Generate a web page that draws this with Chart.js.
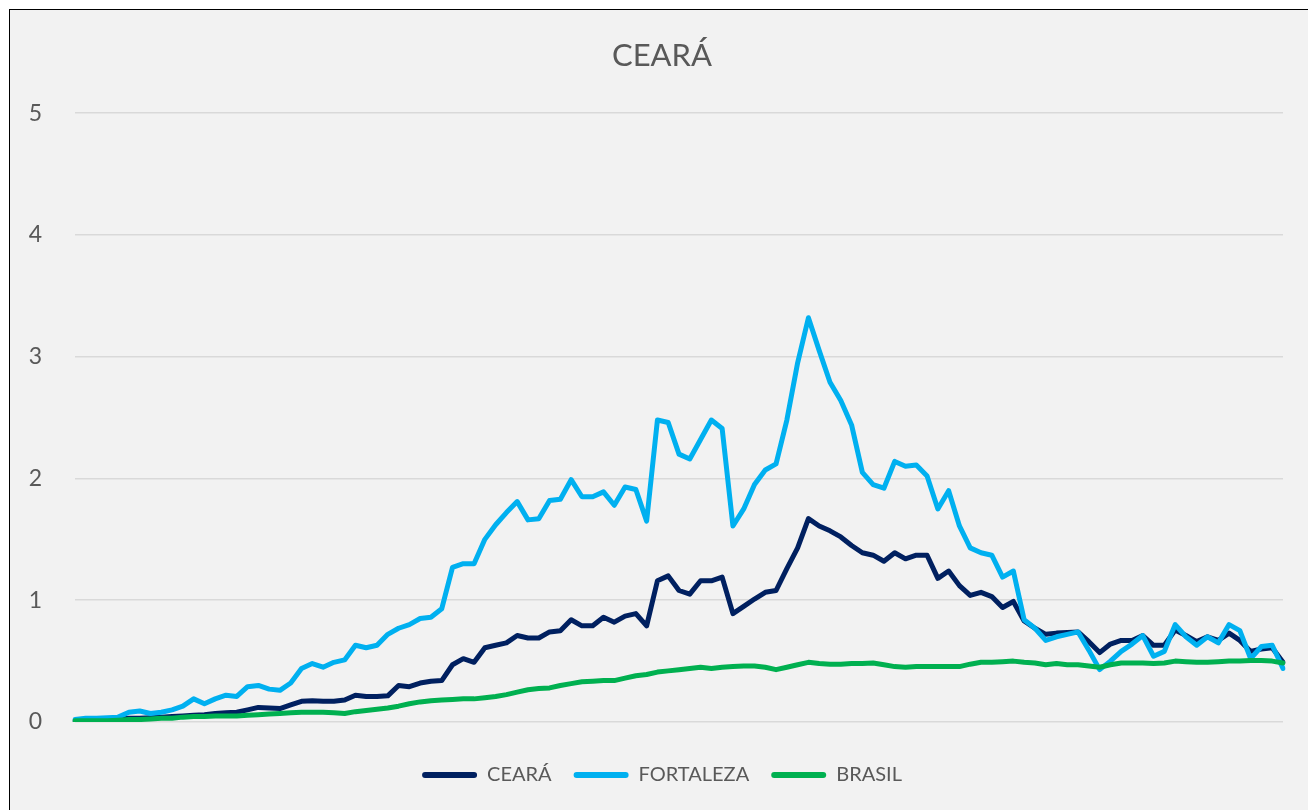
<!DOCTYPE html>
<html>
<head>
<meta charset="utf-8">
<script src="https://cdn.jsdelivr.net/npm/chart.js@4"></script>
<style>
  html, body { margin: 0; padding: 0; background: #ffffff; overflow: hidden; }
  .frame { position: absolute; left: 9px; top: 9px; width: 1304px; height: 800px;
           border: 1px solid #000; background: #f2f2f2; }
  canvas { display: block; }
</style>
</head>
<body>
<div class="frame"><canvas id="myChart" width="1304" height="800"></canvas></div>
<script>
// weekly points, labels are not shown on the axis
var semanas = Array.from({length: 113}, function (v, i) { return 'S' + (i + 1); });

var yTicks = [0, 1, 2, 3, 4, 5];

var ceara = [0.01,0.01,0.015,0.02,0.02,0.03,0.03,0.035,0.04,0.045,
  0.05,0.055,0.06,0.07,0.075,0.08,0.10,0.12,0.115,0.11,
  0.14,0.17,0.175,0.17,0.17,0.18,0.22,0.21,0.21,0.215,
  0.30,0.29,0.32,0.335,0.34,0.47,0.52,0.49,0.61,0.63,
  0.65,0.71,0.69,0.69,0.74,0.75,0.84,0.79,0.79,0.86,
  0.82,0.87,0.89,0.79,1.16,1.20,1.08,1.05,1.16,1.16,
  1.19,0.89,0.95,1.01,1.065,1.08,1.26,1.43,1.67,1.61,
  1.57,1.52,1.45,1.39,1.37,1.32,1.39,1.34,1.37,1.37,
  1.18,1.24,1.12,1.04,1.065,1.03,0.94,0.99,0.83,0.77,
  0.72,0.73,0.735,0.74,0.66,0.57,0.64,0.67,0.67,0.71,
  0.63,0.63,0.755,0.71,0.66,0.70,0.67,0.73,0.67,0.58,
  0.60,0.61,0.49];

var fortaleza = [0.02,0.03,0.03,0.035,0.04,0.08,0.09,0.07,0.08,0.10,
  0.13,0.19,0.15,0.19,0.22,0.21,0.29,0.30,0.27,0.26,
  0.32,0.44,0.48,0.45,0.49,0.51,0.63,0.61,0.63,0.72,
  0.77,0.80,0.85,0.86,0.93,1.27,1.30,1.30,1.50,1.62,
  1.72,1.81,1.66,1.67,1.82,1.83,1.99,1.85,1.85,1.89,
  1.78,1.93,1.91,1.65,2.48,2.46,2.20,2.16,2.32,2.48,
  2.41,1.61,1.75,1.95,2.07,2.12,2.48,2.95,3.32,3.05,
  2.79,2.64,2.44,2.05,1.95,1.92,2.14,2.10,2.11,2.02,
  1.75,1.90,1.61,1.43,1.39,1.37,1.19,1.24,0.84,0.77,
  0.67,0.70,0.72,0.74,0.59,0.43,0.50,0.58,0.64,0.71,
  0.54,0.58,0.80,0.70,0.63,0.70,0.65,0.80,0.75,0.52,
  0.62,0.63,0.44];

var brasil = [0.01,0.01,0.01,0.01,0.015,0.02,0.02,0.025,0.03,0.03,
  0.04,0.045,0.045,0.05,0.05,0.05,0.055,0.06,0.065,0.07,
  0.075,0.08,0.08,0.08,0.075,0.07,0.085,0.095,0.105,0.115,
  0.13,0.15,0.165,0.175,0.18,0.185,0.19,0.19,0.20,0.21,
  0.225,0.245,0.265,0.275,0.28,0.30,0.315,0.33,0.335,0.34,
  0.34,0.36,0.38,0.39,0.41,0.42,0.43,0.44,0.45,0.44,
  0.45,0.455,0.46,0.46,0.45,0.43,0.45,0.47,0.49,0.48,
  0.475,0.475,0.48,0.48,0.485,0.47,0.455,0.45,0.455,0.455,
  0.455,0.455,0.455,0.475,0.49,0.49,0.495,0.50,0.49,0.485,
  0.47,0.48,0.47,0.47,0.46,0.45,0.47,0.485,0.485,0.485,
  0.48,0.485,0.50,0.495,0.49,0.49,0.495,0.50,0.50,0.505,
  0.505,0.50,0.485];

var cinza = '#595959';

function serie(label, data, color, order) {
  return {
    label: label,
    data: data,
    borderColor: color,
    backgroundColor: color,
    borderWidth: 5,
    pointRadius: 0,
    tension: 0,
    borderCapStyle: 'round',
    borderJoinStyle: 'round',
    order: order
  };
}

//main chart
var ctx = document.getElementById('myChart').getContext('2d');
var chart = new Chart(ctx, {
  type: 'line',
  data: {
    labels: semanas,
    datasets: [
      serie('CEARÁ', ceara, '#002060', 3),
      serie('FORTALEZA', fortaleza, '#00b0f0', 2),
      serie('BRASIL', brasil, '#00b050', 1)
    ]
  },
  options: {
    responsive: false,
    animation: false,
    layout: { padding: { left: 0, right: 0, top: 0, bottom: 15 } },
    scales: {
      x: {
        grid: { display: false },
        border: { display: false },
        ticks: { display: false },
        afterFit: function (scale) { scale.height = 21; }
      },
      y: {
        min: 0,
        max: 5,
        afterBuildTicks: function (scale) {
          scale.ticks = yTicks.map(function (v) { return { value: v }; });
        },
        grid: { color: '#d9d9d9', lineWidth: 1.5, drawTicks: false },
        border: { display: false },
        ticks: { color: cinza, padding: 33, font: { family: 'Lato', size: 23 } },
        afterFit: function (scale) { scale.width = 65; }
      },
      // empty space on the right side of the plot
      yRight: {
        position: 'right',
        grid: { display: false },
        border: { display: false },
        ticks: { display: false },
        afterFit: function (scale) { scale.width = 31; }
      }
    },
    plugins: {
      title: {
        display: true,
        text: 'CEARÁ',
        color: cinza,
        font: { family: 'Lato', size: 31, weight: 'normal' },
        padding: { top: 27, bottom: 39 }
      },
      legend: {
        position: 'bottom',
        labels: {
          color: cinza,
          font: { family: 'Lato', size: 20 },
          boxWidth: 55,
          boxHeight: 6,
          useBorderRadius: true,
          borderRadius: 3,
          padding: 22,
          generateLabels: function (c) {
            var items = Chart.defaults.plugins.legend.labels.generateLabels(c);
            items.forEach(function (it) { it.lineWidth = 0; });
            return items.sort(function (a, b) { return a.datasetIndex - b.datasetIndex; });
          }
        }
      },
      tooltip: { enabled: false }
    }
  }
});
</script>
</body>
</html>
